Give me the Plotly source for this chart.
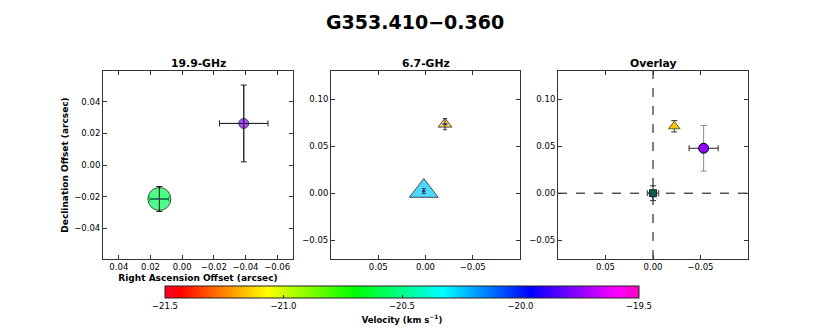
import plotly.graph_objects as go

# 19.9-GHz spots (arcsec offsets, km/s)
ra_199 = [0.0144, -0.0389]
dec_199 = [-0.0215, 0.0263]
ra_err_199 = [0.006, 0.0153]
dec_err_199 = [0.0079, 0.0243]
vel_199 = [-20.57, -19.75]

# 6.7-GHz spots
ra_67 = [0.0018, -0.0206]
dec_67 = [0.0023, 0.0735]
ra_err_67 = [0.0012, 0.002]
dec_err_67 = [0.0025, 0.006]
vel_67 = [-20.25, -21.16]

vel_ticks = [-21.5, -21.0, -20.5, -20.0, -19.5]
ticks_199_x = [0.04, 0.02, 0.00, -0.02, -0.04, -0.06]
ticks_199_y = [0.04, 0.02, 0.00, -0.02, -0.04]
ticks_wide_x = [0.05, 0.00, -0.05]
ticks_wide_y = [0.10, 0.05, 0.00, -0.05]

# styles
size_199 = [23, 10]
size_67 = [25, 12]
size_overlay = 10

# matplotlib gist_rainbow
gist_rainbow = [
    [0.000, "rgb(255,0,40)"],
    [0.030, "rgb(255,0,0)"],
    [0.215, "rgb(255,255,0)"],
    [0.400, "rgb(0,255,0)"],
    [0.586, "rgb(0,255,255)"],
    [0.770, "rgb(0,0,255)"],
    [0.954, "rgb(255,0,255)"],
    [1.000, "rgb(255,0,191)"],
]

FONT = "DejaVu Sans"
W, H = 830, 332

fig = go.Figure()


def err(arr, color="black"):
    return dict(type="data", array=arr, color=color, thickness=1, width=3)


# ---- panel 1: 19.9 GHz
fig.add_trace(go.Scatter(
    x=ra_199, y=dec_199, mode="markers", xaxis="x", yaxis="y",
    marker=dict(symbol="circle", size=size_199, color=vel_199, coloraxis="coloraxis",
                line=dict(color="black", width=1)),
    error_x=err(ra_err_199, "#222"), error_y=err(dec_err_199, "#222"),
))
fig.add_trace(go.Scatter(
    x=ra_199, y=dec_199, mode="markers", xaxis="x", yaxis="y",
    marker=dict(size=2, color="#2040c0"),
    error_x=dict(type="data", array=ra_err_199, color="#222", thickness=1, width=0),
    error_y=dict(type="data", array=dec_err_199, color="#222", thickness=1, width=0),
))

# ---- panel 2: 6.7 GHz
fig.add_trace(go.Scatter(
    x=ra_67, y=dec_67, mode="markers", xaxis="x2", yaxis="y2",
    marker=dict(symbol="triangle-up", size=size_67, color=vel_67, coloraxis="coloraxis",
                line=dict(color="black", width=1)),
))
fig.add_trace(go.Scatter(
    x=ra_67, y=dec_67, mode="markers", xaxis="x2", yaxis="y2",
    marker=dict(symbol="square", size=2, color="#3a2a90"),
    error_x=dict(type="data", array=ra_err_67, color="#1f3fa0", thickness=1, width=1),
    error_y=dict(type="data", array=dec_err_67, color="#333", thickness=1, width=2),
))

# ---- panel 3: overlay, each band shifted to its reference spot
ov_ra_199 = [r - ra_199[0] for r in ra_199]
ov_dec_199 = [d - dec_199[0] for d in dec_199]
ov_ra_67 = [r - ra_67[0] for r in ra_67]
ov_dec_67 = [d - dec_67[0] for d in dec_67]

fig.add_trace(go.Scatter(
    x=ov_ra_199[1:], y=ov_dec_199[1:], mode="markers", xaxis="x3", yaxis="y3",
    marker=dict(symbol="circle", size=size_overlay, color=vel_199[1:], coloraxis="coloraxis",
                line=dict(color="black", width=1)),
    error_x=err(ra_err_199[1:], "#222"), error_y=err(dec_err_199[1:], "#888"),
))
fig.add_trace(go.Scatter(
    x=ov_ra_67[1:], y=ov_dec_67[1:], mode="markers", xaxis="x3", yaxis="y3",
    marker=dict(symbol="triangle-up", size=size_overlay, color=vel_67[1:], coloraxis="coloraxis",
                line=dict(color="#556b2f", width=1)),
    error_y=err(dec_err_67[1:], "#333"),
))
fig.add_trace(go.Scatter(
    x=[ov_ra_199[0]], y=[ov_dec_199[0]], mode="markers", xaxis="x3", yaxis="y3",
    marker=dict(symbol="square", size=7, color="#0d5a50", line=dict(color="#0a2a28", width=1)),
    error_x=err([ra_err_199[0]], "#333"), error_y=err([dec_err_199[0]], "#333"),
))

# dashed cross-hairs at the reference position
fig.add_shape(type="line", layer="below", xref="x3", yref="y3 domain",
              x0=0, x1=0, y0=0, y1=1, line=dict(color="black", width=1, dash="dash"))
fig.add_shape(type="line", layer="below", xref="x3 domain", yref="y3",
              x0=0, x1=1, y0=0, y1=0, line=dict(color="black", width=1, dash="dash"))

# ---- axes
row_y = [1 - 259 / H, 1 - 71 / H]
doms = [[103 / W, 293 / W], [331 / W, 520 / W], [558 / W, 748 / W]]


def axis(dom, rng, tv, anchor, **kw):
    d = dict(domain=dom, range=rng, tickvals=tv, tickformat=".2f", anchor=anchor,
             showgrid=False, zeroline=False, showline=True, mirror="ticks",
             linecolor="#333", linewidth=1, ticks="inside", ticklen=4, tickcolor="#333",
             tickfont=dict(family=FONT, size=8.5, color="black"))
    d.update(kw)
    return d


title_font = dict(family=FONT, size=9, color="black")
fig.update_layout(
    xaxis=axis(doms[0], [0.05, -0.07], ticks_199_x, "y",
               title=dict(text="<b>Right Ascension Offset (arcsec)</b>", font=title_font, standoff=3)),
    yaxis=axis(row_y, [-0.0595, 0.0595], ticks_199_y, "x",
               title=dict(text="<b>Declination Offset (arcsec)</b>", font=title_font, standoff=4)),
    xaxis2=axis(doms[1], [0.1, -0.1], ticks_wide_x, "y2"),
    yaxis2=axis(row_y, [-0.07, 0.13], ticks_wide_y, "x2"),
    xaxis3=axis(doms[2], [0.1, -0.1], ticks_wide_x, "y3"),
    yaxis3=axis(row_y, [-0.07, 0.13], ticks_wide_y, "x3"),
    coloraxis=dict(
        colorscale=gist_rainbow, cmin=vel_ticks[0], cmax=vel_ticks[-1],
        colorbar=dict(
            orientation="h", x=402 / W, xanchor="center", y=1 - 286 / H, yanchor="top",
            lenmode="pixels", len=474, thickness=12, xpad=0, ypad=0,
            outlinecolor="#222", outlinewidth=1,
            tickvals=vel_ticks, tickformat=".1f", ticks="inside", ticklen=3, tickcolor="#222",
            tickfont=dict(family=FONT, size=8.5, color="black"),
            title=dict(text="<b>Velocity (km s<sup>−1</sup>)</b>", side="bottom",
                       font=dict(family=FONT, size=8.5, color="black")),
        ),
    ),
    showlegend=False,
    width=W, height=H,
    margin=dict(l=0, r=0, t=0, b=0, autoexpand=False),
    paper_bgcolor="white", plot_bgcolor="white",
    font=dict(family=FONT),
)

# titles
panel_titles = ["19.9-GHz", "6.7-GHz", "Overlay"]
for dom, txt in zip(doms, panel_titles):
    fig.add_annotation(text=f"<b>{txt}</b>", xref="paper", yref="paper",
                       x=(dom[0] + dom[1]) / 2, y=1 - 64 / H, xanchor="center", yanchor="middle",
                       showarrow=False, font=dict(family=FONT, size=10.8, color="black"))
fig.add_annotation(text="<b>G353.410−0.360</b>", xref="paper", yref="paper",
                   x=415 / W, y=1 - 22 / H, xanchor="center", yanchor="middle",
                   showarrow=False, font=dict(family=FONT, size=19, color="black"))

# browser body margin would push the fixed-size figure off by 8px
fig.write_html("out.html", config={"displayModeBar": False},
               post_script="document.body.style.margin='0';")
